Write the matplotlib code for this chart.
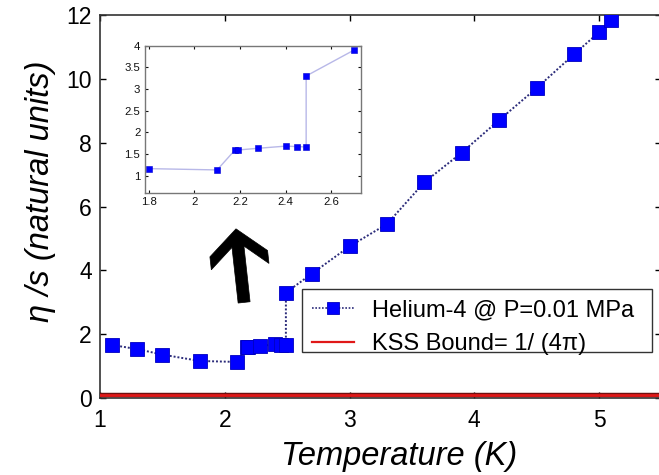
import numpy as np
import matplotlib
matplotlib.use('Agg')
import matplotlib.pyplot as plt
import matplotlib.patheffects as pe
from matplotlib.patches import Polygon, Rectangle
from matplotlib.lines import Line2D
from matplotlib.transforms import Affine2D

plt.rcParams['font.family'] = ['Liberation Sans', 'DejaVu Sans']

# Helium-4 shear viscosity to entropy density ratio, P = 0.01 MPa
temp_K = [1.1, 1.3, 1.5, 1.8, 2.1, 2.18, 2.19, 2.28, 2.4, 2.45, 2.49, 2.49,
          2.7, 3.0, 3.3, 3.6, 3.9, 4.2, 4.5, 4.8, 5.0, 5.1]
eta_s = [1.66, 1.53, 1.36, 1.16, 1.13, 1.60, 1.59, 1.63, 1.68, 1.67, 1.66, 3.30,
         3.90, 4.75, 5.45, 6.76, 7.69, 8.71, 9.71, 10.77, 11.46, 11.85]

# zoom around the lambda point
inset_T = [1.8, 2.1, 2.18, 2.19, 2.28, 2.4, 2.45, 2.49, 2.49, 2.7]
inset_eta_s = [1.16, 1.13, 1.60, 1.59, 1.63, 1.68, 1.67, 1.66, 3.30, 3.90]

kss_bound = 1.0 / (4.0 * np.pi)

xticks = [1, 2, 3, 4, 5]
yticks = [0, 2, 4, 6, 8, 10, 12]
inset_xticks = [1.8, 2.0, 2.2, 2.4, 2.6]
inset_yticks = [1, 1.5, 2, 2.5, 3, 3.5, 4]

W, H = 659, 475
fig = plt.figure(figsize=(W / 100, H / 100), dpi=100)
fig.patch.set_facecolor('white')

# main axes, pixel box: x 100..661, y 15..398 (from top)
ax = fig.add_axes([100 / W, (H - 398) / H, 561.4 / W, 383 / H])
ax.set_xlim(1, 5.5)
ax.set_ylim(0, 12)
ax.set_xticks(xticks)
ax.set_yticks(yticks)
ax.tick_params(direction='in', top=True, right=True, length=4, width=1,
               labelsize=16.5, pad=6, colors='black')
ax.tick_params(axis='x', pad=8)
for s in ax.spines.values():
    s.set_color('#333333')
    s.set_linewidth(1.2)

ax.plot(temp_K, eta_s, linestyle=(0, (1, 1)), color='#2b2b7a', lw=1.4,
        marker='s', markersize=9.5, markerfacecolor='#0000ff',
        markeredgecolor='#0000c0', markeredgewidth=0.6, zorder=3)
ax.axhline(kss_bound, color='#e01818', lw=2.0, zorder=4,
           path_effects=[pe.Stroke(linewidth=3.2, foreground='#701010'), pe.Normal()])

ax.set_xlabel('Temperature (K)', fontsize=23.5, style='italic')
ax.xaxis.set_label_coords((399 - 100) / 561.4, -(456 - 398) / 383)
ax.xaxis.label.set_va('center')
ax.set_ylabel('\u03b7 /s (natural units)', fontsize=23.5, style='italic', va='center')
ax.yaxis.set_label_coords((41 - 100) / 561.4, (398 - 191) / 383)

# legend: entries placed freely, box drawn separately
handles = [
    Line2D([], [], linestyle=(0, (1, 1)), color='#2b2b7a', lw=1.2, marker='s',
           markersize=9, markerfacecolor='#0000ff', markeredgecolor='#0000c0',
           markeredgewidth=0.6),
    Line2D([], [], color='#e01818', lw=1.6),
]
labels = ['Helium-4 @ P=0.01 MPa', 'KSS Bound= 1/ (4\u03c0)']
leg = ax.legend(handles, labels, loc='upper left',
                bbox_to_anchor=(308 / W, 1 - 296 / H),
                bbox_transform=fig.transFigure, fontsize=17,
                frameon=False, borderaxespad=0, borderpad=0.15,
                handlelength=1.8, handletextpad=0.75, labelspacing=0.48)
leg_box = Rectangle((301.7 / W, 1 - 351.7 / H), 350 / W, 62.4 / H,
                    transform=fig.transFigure, facecolor='white',
                    edgecolor='#333333', lw=1.0, zorder=4.5)
ax.add_artist(leg_box)
leg.set_zorder(6)

# arrow pointing up at the inset
tip = ax.transData.transform((2.09, 5.3))
arrow_px = [(0, 0), (29, -25), (29, -38), (6, -18), (6, -74), (-6, -74),
            (-6, -18), (-29, -38), (-29, -25)]
arrow = Polygon(arrow_px, closed=True, facecolor='black', edgecolor='black',
                lw=0.5, transform=Affine2D().rotate_deg(6.3).translate(*tip),
                zorder=5)
fig.patches.append(arrow)

# inset
axin = fig.add_axes([144.5 / W, (H - 193.3) / H, 216 / W, 147.6 / H])
axin.set_xlim(1.782, 2.728)
axin.set_ylim(0.59, 4.0)
axin.set_xticks(inset_xticks)
axin.set_xticklabels(['1.8', '2', '2.2', '2.4', '2.6'])
axin.set_yticks(inset_yticks)
axin.set_yticklabels(['1', '1.5', '2', '2.5', '3', '3.5', '4'])
axin.tick_params(direction='in', top=True, right=True, length=2.5, width=0.8,
                 labelsize=8.2, pad=3, colors='#111111')
for s in axin.spines.values():
    s.set_color('#777777')
    s.set_linewidth(1.0)
axin.plot(inset_T, inset_eta_s, color='#b8b8e8', lw=1.0, marker='s',
          markersize=4.5, markerfacecolor='#0000ff', markeredgecolor='#0000d0',
          markeredgewidth=0.4)

fig.savefig('out.png', dpi=100)
